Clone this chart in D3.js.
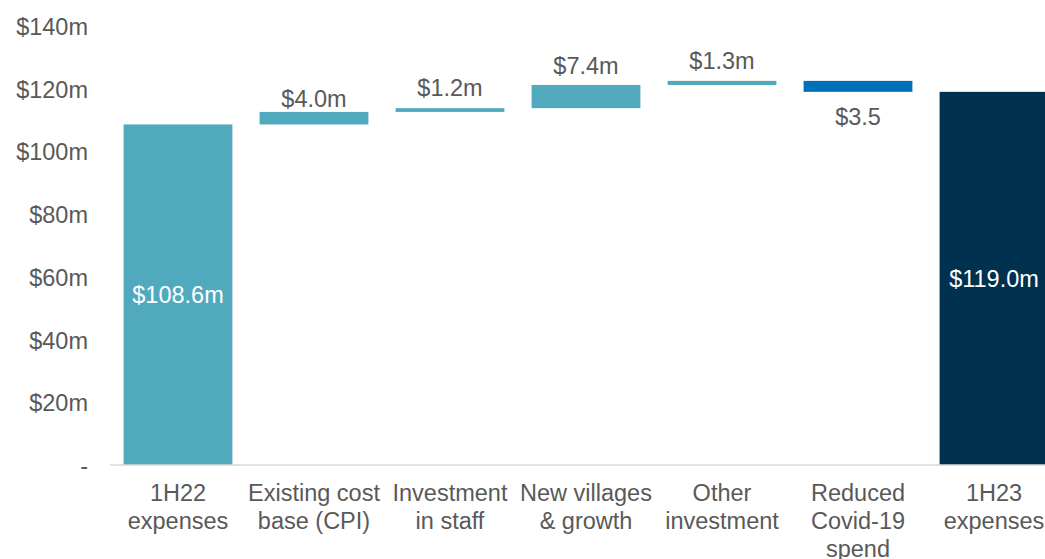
<!DOCTYPE html>
<html>
<head>
<meta charset="utf-8">
<script src="https://cdn.jsdelivr.net/npm/d3@7"></script>
<style>
  html, body { margin: 0; padding: 0; background: #fff; overflow: hidden; }
  svg { display: block; }
  text { font-family: "Liberation Sans", Arial, sans-serif; }
</style>
</head>
<body>
<svg id="chart" width="1045" height="559"></svg>
<script>
// Expense bridge 1H22 -> 1H23 ($m)
const categories = [
  ["1H22", "expenses"],
  ["Existing cost", "base (CPI)"],
  ["Investment", "in staff"],
  ["New villages", "& growth"],
  ["Other", "investment"],
  ["Reduced", "Covid-19", "spend"],
  ["1H23", "expenses"]
];
const values = [108.6, 4.0, 1.2, 7.4, 1.3, -3.5, 119.0];
const kinds = ["start", "up", "up", "up", "up", "down", "end"];
const valueLabels = ["$108.6m", "$4.0m", "$1.2m", "$7.4m", "$1.3m", "$3.5", "$119.0m"];
const yTicks = [0, 20, 40, 60, 80, 100, 120, 140];
const yTickLabels = ["-", "$20m", "$40m", "$60m", "$80m", "$100m", "$120m", "$140m"];

const colors = { start: "#51A9BE", up: "#51A9BE", down: "#0070BA", end: "#00314F" };
const textColor = "#595959";
const fontSize = 23.5;

// Running totals for the floating steps
let running = 0;
const bars = values.map((v, i) => {
  const k = kinds[i];
  let lo, hi;
  if (k === "start" || k === "end") { lo = 0; hi = v; running = v; }
  else { lo = running; hi = running + v; running = hi; }
  return { i, k, v, y0: Math.min(lo, hi), y1: Math.max(lo, hi), label: valueLabels[i] };
});

const svg = d3.select("#chart");
const x = d3.scaleBand()
  .domain(d3.range(categories.length))
  .range([110, 110 + 7 * 136])
  .paddingInner(0.2)
  .paddingOuter(0.1);
const y = d3.scaleLinear().domain([0, 140]).range([465, 26]);

// Y axis labels (no axis line, no gridlines)
const yAxis = d3.axisLeft(y).tickValues(yTicks)
  .tickFormat((d, i) => yTickLabels[i]).tickSize(0).tickPadding(0);
const gy = svg.append("g").attr("transform", "translate(88,0)").call(yAxis);
gy.select(".domain").remove();
gy.selectAll("text")
  .attr("font-size", fontSize).attr("fill", textColor)
  .attr("font-family", "'Liberation Sans', Arial, sans-serif")
  .attr("dy", "0.36em");

// Bars
svg.append("g").selectAll("rect").data(bars).join("rect")
  .attr("x", d => x(d.i))
  .attr("width", x.bandwidth())
  .attr("y", d => y(d.y1))
  .attr("height", d => y(d.y0) - y(d.y1))
  .attr("fill", d => colors[d.k]);

// Baseline
svg.append("line")
  .attr("x1", 110).attr("x2", 1045)
  .attr("y1", y(0)).attr("y2", y(0))
  .attr("stroke", "#D9D9D9").attr("stroke-width", 1.5);

// Value labels
const labelGap = [0, 5, 12, 11, 12, 0, 0];
svg.append("g").selectAll("text").data(bars).join("text")
  .attr("x", d => x(d.i) + x.bandwidth() / 2)
  .attr("y", d => {
    if (d.k === "start" || d.k === "end") return (y(d.y0) + y(d.y1)) / 2;
    if (d.k === "down") return y(d.y0) + 16;
    return y(d.y1) - labelGap[d.i];
  })
  .attr("dy", d => (d.k === "start" || d.k === "end") ? "0.36em" : (d.k === "down" ? "0.72em" : 0))
  .attr("text-anchor", "middle")
  .attr("font-size", fontSize)
  .attr("fill", d => (d.k === "start" || d.k === "end") ? "#FFFFFF" : textColor)
  .text(d => d.label);

// Category labels
const xAxisG = svg.append("g");
categories.forEach((lines, i) => {
  const t = xAxisG.append("text")
    .attr("x", x(i) + x.bandwidth() / 2)
    .attr("y", 501)
    .attr("text-anchor", "middle")
    .attr("font-size", fontSize)
    .attr("fill", textColor);
  lines.forEach((ln, j) => {
    t.append("tspan")
      .attr("x", x(i) + x.bandwidth() / 2)
      .attr("dy", j === 0 ? 0 : 28)
      .text(ln);
  });
});
</script>
</body>
</html>
